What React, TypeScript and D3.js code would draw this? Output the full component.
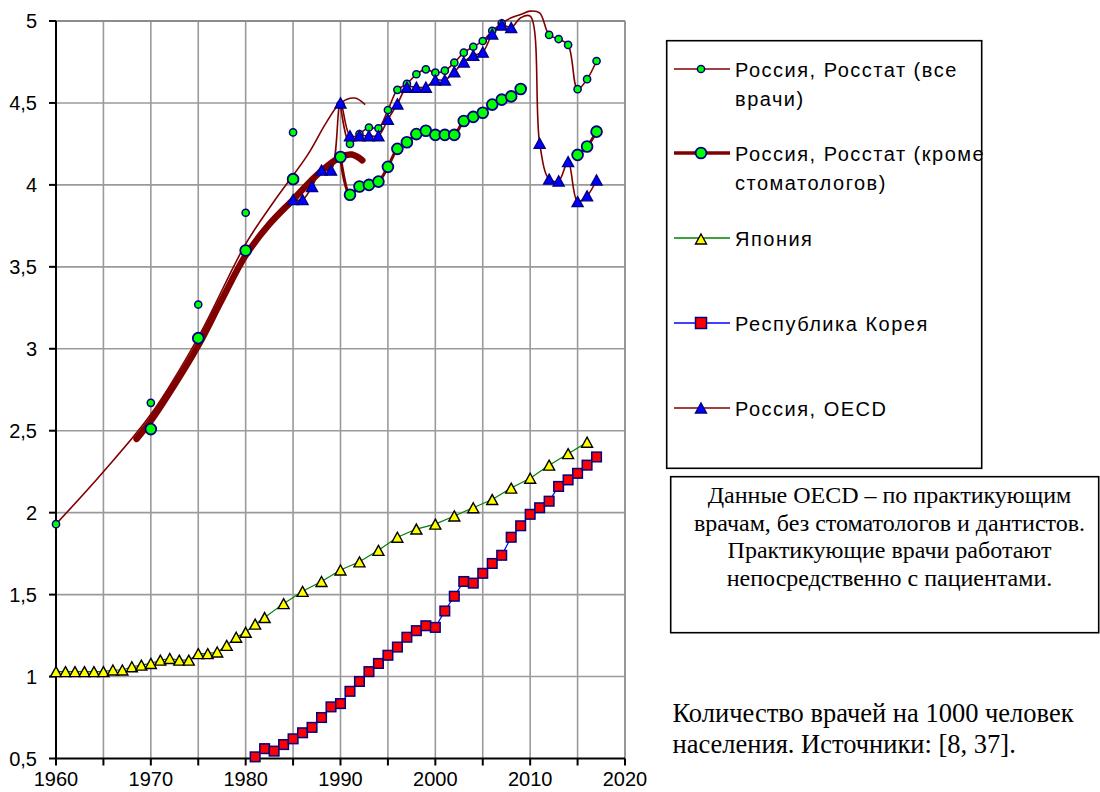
import React from 'react';
import * as d3 from 'd3';

// ---------- DATA ----------
const japanYears = [1960, 1961, 1962, 1963, 1964, 1965, 1966, 1967, 1968, 1969, 1970, 1971, 1972, 1973, 1974, 1975, 1976, 1977, 1978, 1979, 1980, 1981, 1982,
  1984, 1986, 1988, 1990, 1992, 1994, 1996, 1998, 2000, 2002, 2004, 2006, 2008, 2010, 2012, 2014, 2016];
const japanValues = [1.03, 1.03, 1.03, 1.03, 1.03, 1.03, 1.04, 1.04, 1.06, 1.07, 1.08, 1.1, 1.11, 1.1, 1.1, 1.14, 1.14, 1.15, 1.19, 1.24, 1.27, 1.32, 1.36,
  1.445, 1.52, 1.58, 1.65, 1.7, 1.77, 1.85, 1.9, 1.93, 1.98, 2.03, 2.08, 2.15, 2.21, 2.29, 2.36, 2.43];

const koreaYears = d3.range(1981, 2018);
const koreaValues = [0.51, 0.56, 0.545, 0.585, 0.62, 0.657, 0.69, 0.75, 0.815, 0.835, 0.91, 0.97, 1.03, 1.08, 1.13, 1.18, 1.24, 1.28, 1.31, 1.3,
  1.4, 1.49, 1.58, 1.57, 1.63, 1.69, 1.74, 1.85, 1.92, 1.99, 2.03, 2.07, 2.16, 2.2, 2.24, 2.29, 2.34];

const rosstatAllYears = [1960, 1970, 1975, 1980, 1985, ...d3.range(1990, 2018)];
const rosstatAllValues = [1.93, 2.67, 3.27, 3.83, 4.32,
  4.49, 4.25, 4.31, 4.35, 4.345, 4.457, 4.58, 4.616, 4.675, 4.705, 4.685, 4.697, 4.746, 4.807, 4.843, 4.878, 4.94, 4.986,
  5.02, 5.04, 5.06, 5.05, 4.915, 4.89, 4.854, 4.584, 4.645, 4.756];

const rosstatExclYears = [1970, 1975, 1980, 1985, ...d3.range(1990, 2010), 2015, 2016, 2017];
const rosstatExclValues = [2.51, 3.065, 3.6, 4.035,
  4.17, 3.94, 3.99, 4.0, 4.02, 4.11, 4.22, 4.26, 4.31, 4.33, 4.305, 4.305, 4.305, 4.39, 4.415, 4.44, 4.49, 4.52, 4.54, 4.585,
  4.183, 4.234, 4.325];

const oecdYears = d3.range(1985, 2018);
const oecdValues = [3.91, 3.91, 3.99, 4.09, 4.09, 4.5, 4.3, 4.3, 4.3, 4.3, 4.4, 4.494, 4.596, 4.596, 4.596, 4.64, 4.64, 4.69, 4.75, 4.79,
  4.81, 4.92, 4.976, 4.96, 5.02, 5.03, 4.254, 4.035, 4.024, 4.142, 3.898, 3.933, 4.03];

// trend curves (no markers)
const trendAllYears = [1960, 1965, 1970, 1975, 1980, 1983, 1986.5, 1988.5, 1990, 1991.5, 1992.6];
const trendAllValues = [1.93, 2.25, 2.6, 3.07, 3.64, 3.9, 4.18, 4.38, 4.5, 4.53, 4.49];
const trendExclYears = [1968.5, 1970, 1972.5, 1975, 1977.5, 1980, 1982.5, 1985, 1987.5, 1990, 1991.2, 1992.3];
const trendExclValues = [2.45, 2.56, 2.78, 3.02, 3.3, 3.57, 3.76, 3.91, 4.06, 4.17, 4.185, 4.15];

const xTicks = d3.range(1960, 2021, 5);
const xLabels = d3.range(1960, 2021, 10);
const yTicks = d3.range(0.5, 5.01, 0.5);

const legendLabels = [
  ['Россия, Росстат (все', 'врачи)'],
  ['Россия, Росстат (кроме', 'стоматологов)'],
  ['Япония'],
  ['Республика Корея'],
  ['Россия, OECD'],
];
const noteLines = [
  'Данные OECD – по практикующим',
  'врачам, без стоматологов и дантистов.',
  'Практикующие врачи работают',
  'непосредственно с пациентами.',
];
const captionLines = ['Количество врачей на 1000 человек', 'населения. Источники: [8, 37].'];

// ---------- STYLES ----------
const DARKRED = '#800000';
const NAVY = '#000080';

const x = d3.scaleLinear().domain([1960, 2020]).range([56, 625]);
const y = d3.scaleLinear().domain([0.5, 5]).range([758.5, 21]);

type P = [number, number | null];

function withGaps(years: number[], values: number[]): P[] {
  const out: P[] = [];
  years.forEach((yr, i) => {
    if (i > 0 && yr - years[i - 1] > 1) out.push([yr - 0.5, null]);
    out.push([yr, values[i]]);
  });
  return out;
}
function pts(years: number[], values: number[]): P[] {
  return years.map((yr, i) => [yr, values[i]] as P);
}

const smooth = d3
  .line<P>()
  .defined((d) => d[1] != null)
  .x((d) => x(d[0]))
  .y((d) => y(d[1] as number))
  .curve(d3.curveCatmullRom.alpha(0.5));

const trendCurve = d3
  .line<P>()
  .x((d) => x(d[0]))
  .y((d) => y(d[1] as number))
  .curve(d3.curveCatmullRom.alpha(0.5));

const straight = d3
  .line<P>()
  .x((d) => x(d[0]))
  .y((d) => y(d[1] as number));

function tri(cx: number, cy: number, w = 11, h = 10) {
  return `M${cx},${cy - h / 2}L${cx + w / 2},${cy + h / 2}L${cx - w / 2},${cy + h / 2}Z`;
}

const visible = (v: number) => v <= 5.0001;

export default function App() {
  const font = '"Liberation Sans", Arial, sans-serif';
  const serif = '"Liberation Serif", "Times New Roman", serif';

  const legendRows = [69, 153, 238, 323, 408];

  return (
    <svg width={1100} height={792} style={{ position: 'absolute', left: 0, top: 0, background: '#fff' }}>
      <rect x={0} y={0} width={1100} height={792} fill="#fff" />
      {/* grid */}
      {xTicks.slice(1, -1).map((t) => (
        <line key={'gx' + t} x1={x(t)} x2={x(t)} y1={y(5)} y2={y(0.5)} stroke="#9a9a9a" strokeWidth={1.6} />
      ))}
      {yTicks.slice(1, -1).map((t) => (
        <line key={'gy' + t} x1={x(1960)} x2={x(2020)} y1={y(t)} y2={y(t)} stroke="#9a9a9a" strokeWidth={1.6} />
      ))}
      {/* plot border top/right */}
      <line x1={x(1960)} x2={x(2020)} y1={y(5)} y2={y(5)} stroke="#8c8c8c" strokeWidth={1.8} />
      <line x1={x(2020)} x2={x(2020)} y1={y(5)} y2={y(0.5)} stroke="#8c8c8c" strokeWidth={1.8} />

      {/* axes */}
      <line x1={x(1960)} x2={x(1960)} y1={y(5)} y2={y(0.5)} stroke="#000" strokeWidth={2} />
      <line x1={x(1960)} x2={x(2020)} y1={y(0.5)} y2={y(0.5)} stroke="#000" strokeWidth={2} />
      {yTicks.map((t) => (
        <line key={'ty' + t} x1={x(1960) - 7} x2={x(1960)} y1={y(t)} y2={y(t)} stroke="#000" strokeWidth={2} />
      ))}
      {xTicks.map((t) => (
        <line key={'tx' + t} x1={x(t)} x2={x(t)} y1={y(0.5)} y2={y(0.5) + 7} stroke="#000" strokeWidth={2} />
      ))}
      {yTicks.map((t) => (
        <text key={'ly' + t} x={37} y={y(t) + 7} textAnchor="end" fontFamily={font} fontSize={20} fill="#000">
          {String(Math.round(t * 10) / 10).replace('.', ',')}
        </text>
      ))}
      {xLabels.map((t) => (
        <text key={'lx' + t} x={x(t)} y={786} textAnchor="middle" fontFamily={font} fontSize={20} fill="#000">
          {t}
        </text>
      ))}

      {/* trend curves */}
      <path d={trendCurve(pts(trendExclYears, trendExclValues)) || ''} fill="none" stroke={DARKRED} strokeWidth={6.5} strokeLinecap="round" />
      <path d={trendCurve(pts(trendAllYears, trendAllValues)) || ''} fill="none" stroke={DARKRED} strokeWidth={1.6} />

      {/* series lines */}
      <path d={smooth(withGaps(rosstatAllYears, rosstatAllValues)) || ''} fill="none" stroke={DARKRED} strokeWidth={1.6} />
      <path d={smooth(withGaps(rosstatExclYears, rosstatExclValues)) || ''} fill="none" stroke={DARKRED} strokeWidth={3} />
      <path d={straight(pts(japanYears, japanValues)) || ''} fill="none" stroke="#008000" strokeWidth={1.2} />
      <path d={straight(pts(koreaYears, koreaValues)) || ''} fill="none" stroke="#0000ff" strokeWidth={1.2} />
      <path d={smooth(pts(oecdYears, oecdValues)) || ''} fill="none" stroke={DARKRED} strokeWidth={1.6} />

      {/* markers */}
      {rosstatAllYears.map((yr, i) =>
        visible(rosstatAllValues[i]) ? (
          <circle key={'ra' + yr} cx={x(yr)} cy={y(rosstatAllValues[i])} r={3.6} fill="#00ff00" stroke={NAVY} strokeWidth={1.5} />
        ) : null
      )}
      {rosstatExclYears.map((yr, i) =>
        visible(rosstatExclValues[i]) ? (
          <circle key={'re' + yr} cx={x(yr)} cy={y(rosstatExclValues[i])} r={5.4} fill="#00ff00" stroke={NAVY} strokeWidth={1.8} />
        ) : null
      )}
      {japanYears.map((yr, i) => (
        <path key={'jp' + yr} d={tri(x(yr), y(japanValues[i]))} fill="#ffff00" stroke="#000" strokeWidth={1.4} strokeLinejoin="miter" />
      ))}
      {koreaYears.map((yr, i) => (
        <rect key={'kr' + yr} x={x(yr) - 4.8} y={y(koreaValues[i]) - 4.8} width={9.6} height={9.6} fill="#ff0000" stroke={NAVY} strokeWidth={1.5} />
      ))}
      {oecdYears.map((yr, i) =>
        visible(oecdValues[i]) ? (
          <path key={'oe' + yr} d={tri(x(yr), y(oecdValues[i]))} fill="#0000ff" stroke={NAVY} strokeWidth={1.4} />
        ) : null
      )}

      {/* legend */}
      <rect x={666.7} y={40.7} width={315} height={427.6} fill="#fff" stroke="#000" strokeWidth={1.6} />
      {legendLabels.map((lines, i) => {
        const cy = legendRows[i];
        const mx = 701;
        return (
          <g key={'lg' + i}>
            <line x1={674} x2={730} y1={cy} y2={cy}
              stroke={i === 2 ? '#008000' : i === 3 ? '#0000ff' : DARKRED}
              strokeWidth={i === 1 ? 3.5 : 1.4} />
            {i === 0 && <circle cx={mx} cy={cy} r={3.6} fill="#00ff00" stroke={NAVY} strokeWidth={1.5} />}
            {i === 1 && <circle cx={mx} cy={cy} r={5.4} fill="#00ff00" stroke={NAVY} strokeWidth={1.8} />}
            {i === 2 && <path d={tri(mx, cy + 1)} fill="#ffff00" stroke="#000" strokeWidth={1.4} />}
            {i === 3 && <rect x={mx - 5.5} y={cy - 5.5} width={11} height={11} fill="#ff0000" stroke={NAVY} strokeWidth={1.5} />}
            {i === 4 && <path d={tri(mx, cy)} fill="#0000ff" stroke={NAVY} strokeWidth={1.4} />}
            {lines.map((t, j) => (
              <text key={j} x={735} y={cy + 8 + j * 29} fontFamily={font} fontSize={20} letterSpacing={1.5} fill="#000">
                {t}
              </text>
            ))}
          </g>
        );
      })}

      {/* note box */}
      <rect x={670.7} y={476.7} width={428} height={156} fill="#fff" stroke="#000" strokeWidth={1.6} />
      {noteLines.map((t, j) => (
        <text key={'n' + j} x={889.5} y={503 + j * 27.6} textAnchor="middle" fontFamily={serif} fontSize={24} fill="#000">
          {t}
        </text>
      ))}
      {captionLines.map((t, j) => (
        <text key={'c' + j} x={672.5} y={721.5 + j * 31.7} fontFamily={serif} fontSize={26.5} fill="#000">
          {t}
        </text>
      ))}
    </svg>
  );
}
